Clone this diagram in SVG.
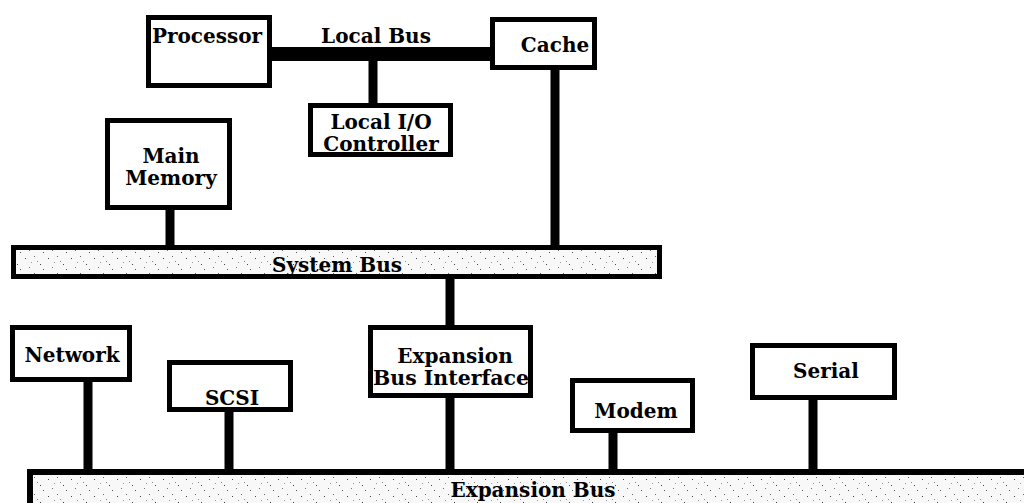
<svg xmlns="http://www.w3.org/2000/svg" width="1024" height="503" viewBox="0 0 1024 503">
<style>
.box{fill:#fff;stroke:#000;stroke-width:5}
.bus{fill:url(#speck);stroke:#000}
.con{stroke:#000;stroke-width:9;fill:none}
.t{font-family:"DejaVu Serif","Liberation Serif",serif;font-weight:bold;font-size:20px;fill:#000;text-anchor:middle}
</style>
<defs>
<pattern id="speck" width="23" height="17" patternUnits="userSpaceOnUse">
<rect width="23" height="17" fill="#f8f8f8"/>
<rect x="2" y="3" width="1" height="1" fill="#444"/>
<rect x="11" y="1" width="1" height="1" fill="#666"/>
<rect x="17" y="9" width="1" height="1" fill="#444"/>
<rect x="6" y="12" width="1" height="1" fill="#777"/>
<rect x="20" y="14" width="1" height="1" fill="#555"/>
<rect x="14" y="6" width="1" height="1" fill="#888"/>
<rect x="8" y="7" width="1" height="1" fill="#999"/>
</pattern>
</defs>
<rect width="1024" height="503" fill="#fff"/>
<g id="connectors">
<line class="con" x1="272" y1="54" x2="490" y2="54" style="stroke-width:14"/>
<line class="con" x1="373" y1="60" x2="373" y2="104"/>
<line class="con" x1="555" y1="69" x2="555" y2="247"/>
<line class="con" x1="170" y1="209" x2="170" y2="247"/>
<line class="con" x1="450" y1="278" x2="450" y2="326"/>
<line class="con" x1="88" y1="381" x2="88" y2="471"/>
<line class="con" x1="229" y1="411" x2="229" y2="471"/>
<line class="con" x1="450" y1="397" x2="450" y2="471"/>
<line class="con" x1="613" y1="432" x2="613" y2="471"/>
<line class="con" x1="813" y1="399" x2="813" y2="471"/>
</g>
<g id="system-bus">
<rect class="bus" x="13.5" y="247.5" width="646" height="29" style="stroke-width:5"/>
<text class="t" x="337" y="272">System Bus</text>
</g>
<g id="expansion-bus">
<rect class="bus" x="30" y="472" width="1000" height="40" style="stroke-width:6"/>
<text class="t" x="533" y="497">Expansion Bus</text>
</g>
<g id="local-bus-label">
<text class="t" x="376" y="43">Local Bus</text>
</g>
<g id="processor">
<rect class="box" x="148.5" y="17.5" width="121" height="68"/>
<text class="t" x="207" y="43">Processor</text>
</g>
<g id="cache">
<rect class="box" x="492.5" y="19.5" width="102" height="48"/>
<text class="t" x="555" y="52">Cache</text>
</g>
<g id="local-io">
<rect class="box" x="310.5" y="105.5" width="140" height="49"/>
<text class="t" x="381" y="129">Local I/O</text>
<text class="t" x="381" y="151">Controller</text>
</g>
<g id="main-memory">
<rect class="box" x="107.5" y="120.5" width="122" height="87"/>
<text class="t" x="171" y="163">Main</text>
<text class="t" x="171" y="185">Memory</text>
</g>
<g id="network">
<rect class="box" x="12.5" y="327.5" width="117" height="52"/>
<text class="t" x="72" y="362">Network</text>
</g>
<g id="scsi">
<rect class="box" x="169.5" y="362.5" width="121" height="47"/>
<text class="t" x="232" y="405">SCSI</text>
</g>
<g id="expansion-bus-interface">
<rect class="box" x="370.5" y="327.5" width="160" height="68"/>
<text class="t" x="455" y="363">Expansion</text>
<text class="t" x="451" y="385" textLength="156" lengthAdjust="spacingAndGlyphs">Bus Interface</text>
</g>
<g id="modem">
<rect class="box" x="572.5" y="380.5" width="120" height="50"/>
<text class="t" x="636" y="418">Modem</text>
</g>
<g id="serial">
<rect class="box" x="752.5" y="345.5" width="142" height="52"/>
<text class="t" x="826" y="378">Serial</text>
</g>
</svg>
